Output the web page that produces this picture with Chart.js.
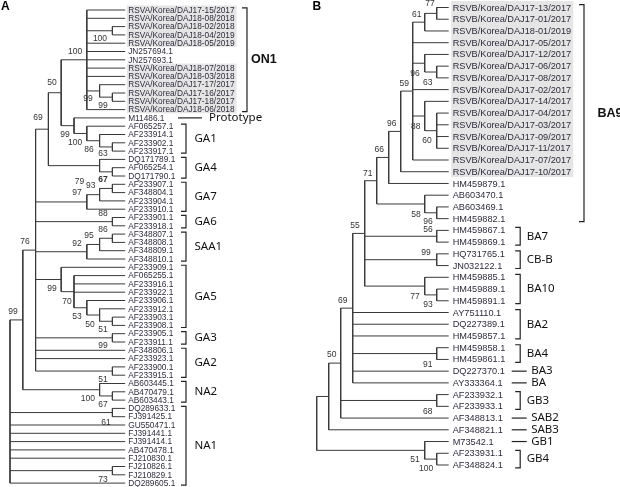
<!DOCTYPE html>
<html>
<head>
<meta charset="utf-8">
<script src="https://cdn.jsdelivr.net/npm/chart.js@4.4.1/dist/chart.umd.min.js"></script>
<style>
html, body { margin: 0; padding: 0; background: #fff; }
#wrap { position: relative; width: 620px; height: 487px; overflow: hidden; }
.panel { position: absolute; top: 0; width: 310px; height: 487px; }
</style>
</head>
<body>
<div id="wrap">
  <div class="panel" style="left:0"><canvas id="treeA"></canvas></div>
  <div class="panel" style="left:310px"><canvas id="treeB"></canvas></div>
</div>
<script>
// ---- panel A (RSV-A) ----
var leavesA = ["RSVA/Korea/DAJ17-15/2017", "RSVA/Korea/DAJ18-08/2018", "RSVA/Korea/DAJ18-02/2018",
  "RSVA/Korea/DAJ18-04/2019", "RSVA/Korea/DAJ18-05/2019", "JN257694.1", "JN257693.1",
  "RSVA/Korea/DAJ18-07/2018", "RSVA/Korea/DAJ18-03/2018", "RSVA/Korea/DAJ17-17/2017",
  "RSVA/Korea/DAJ17-16/2017", "RSVA/Korea/DAJ17-18/2017", "RSVA/Korea/DAJ18-06/2018",
  "M11486.1", "AF065257.1", "AF233914.1", "AF233902.1", "AF233917.1", "DQ171789.1", "AF065254.1",
  "DQ171790.1", "AF233907.1", "AF348804.1", "AF233904.1", "AF233910.1", "AF233901.1", "AF233918.1",
  "AF348807.1", "AF348808.1", "AF348809.1", "AF348810.1", "AF233909.1", "AF065255.1", "AF233916.1",
  "AF233922.1", "AF233906.1", "AF233912.1", "AF233903.1", "AF233908.1", "AF233905.1", "AF233911.1",
  "AF348806.1", "AF233923.1", "AF233900.1", "AF233915.1", "AB603445.1", "AB470479.1", "AB603443.1",
  "DQ289633.1", "FJ391425.1", "GU550471.1", "FJ391441.1", "FJ391414.1", "AB470478.1", "FJ210830.1",
  "FJ210826.1", "FJ210829.1", "DQ289605.1"];
// node = [depth level, [children]]; a number is a leaf row
var treeA = [0, [
  [1, [
    [2, [
      [3, [
        [4, [
          [6, [0, 1, [8, [2, 3]], 4, 5, 6, 7, 8, [7, [9, [8, [10, 11]]]], 12]],
          [5, [13, [6, [14, [7, [15, [8, [16, 17]]]]]]]]
        ]],
        [7, [18, [8, [19, 20]]]]
      ]],
      [6, [[7, [[8, [21, 22]], 23]], 24]],
      [8, [25, 26]],
      [6, [[7, [[8, [27, 28]], 29]], 30]],
      [4, [31, [5, [32, 33, 34, [6, [35, [7, [36, [8, [37, 38]]]]]]]]]],
      [8, [39, 40]],
      41, 42, [8, [43, 44]]
    ]],
    [7, [45, [8, [46, 47]]]]
  ]],
  [8, [48, 49]], 50, 51, 52, 53, 54, [8, [55, 56]], 57
]];
var tipA = 9;
// bootstrap values: [text, level, row, bold]
var supportA = [["100", 7.03, 3.49], ["100", 5.08, 5.06], ["99", 6.09, 10.72], ["99", 7.27, 11.57],
  ["50", 3.28, 8.8], ["69", 2.19, 13.01], ["99", 4.3, 15.06], ["100", 5.08, 16.02], ["86", 6.17, 16.87],
  ["63", 7.27, 17.35], ["79", 5.42, 20.72], ["67", 7.27, 20.48, true], ["93", 6.3, 21.2], ["97", 5.23, 22.05],
  ["88", 7.27, 24.58], ["86", 7.27, 26.51], ["95", 6.17, 27.23], ["92", 5.23, 28.19], ["76", 1.17, 27.95],
  ["99", 0.23, 36.39], ["99", 3.28, 33.61], ["70", 4.45, 35.18], ["53", 5.23, 36.99], ["50", 6.25, 37.95],
  ["51", 7.27, 38.55], ["99", 7.27, 40.48], ["51", 7.27, 44.58], ["100", 6.09, 46.87], ["67", 7.27, 47.59],
  ["61", 7.5, 49.76], ["73", 7.27, 56.63]];
var cladesA = [["ON1", 0, 12, "big"], ["Prototype", 13, 13, "line"], ["GA1", 14, 17], ["GA4", 18, 20],
  ["GA7", 21, 24], ["GA6", 25, 26], ["SAA1", 27, 30], ["GA5", 31, 38], ["GA3", 39, 40], ["GA2", 41, 44],
  ["NA2", 45, 47], ["NA1", 48, 57]];
var shadedA = [[0, 4], [7, 12]];

// ---- panel B (RSV-B) ----
var leavesB = ["RSVB/Korea/DAJ17-13/2017", "RSVB/Korea/DAJ17-01/2017", "RSVB/Korea/DAJ18-01/2019",
  "RSVB/Korea/DAJ17-05/2017", "RSVB/Korea/DAJ17-12/2017", "RSVB/Korea/DAJ17-06/2017",
  "RSVB/Korea/DAJ17-08/2017", "RSVB/Korea/DAJ17-02/2017", "RSVB/Korea/DAJ17-14/2017",
  "RSVB/Korea/DAJ17-04/2017", "RSVB/Korea/DAJ17-03/2017", "RSVB/Korea/DAJ17-09/2017",
  "RSVB/Korea/DAJ17-11/2017", "RSVB/Korea/DAJ17-07/2017", "RSVB/Korea/DAJ17-10/2017",
  "HM459879.1", "AB603470.1", "AB603469.1", "HM459882.1", "HM459867.1", "HM459869.1", "HQ731765.1",
  "JN032122.1", "HM459885.1", "HM459889.1", "HM459891.1", "AY751110.1", "DQ227389.1", "HM459857.1",
  "HM459858.1", "HM459861.1", "DQ227370.1", "AY333364.1", "AF233932.1", "AF233933.1", "AF348813.1",
  "AF348821.1", "M73542.1", "AF233931.1", "AF348824.1"];
var treeB = [0, [
  [1, [
    [2, [
      [3, [
        [4, [
          [5, [
            [6, [
              [7, [
                [8, [[9, [[10, [0, 1]], 2]], 3, [9, [4, [10, [5, 6]]]], 7, [9, [8, [10, [9, 10, 11, 12]]]], 13]],
                14
              ]],
              15
            ]],
            [9, [16, [10, [17, 18]]]]
          ]],
          [10, [19, 20]],
          [10, [21, 22]],
          [9, [23, [10, [24, 25]]]]
        ]],
        26, 27, 28, [10, [29, 30]], 31, 32
      ]],
      [10, [33, 34]],
      35
    ]],
    36
  ]],
  [9, [37, [10, [38, 39]]]]
]];
var tipB = 11;
var supportB = [["77", 9.44, -0.3], ["61", 8.33, 0.64], ["96", 8.2, 5.6], ["63", 9.25, 6.4], ["59", 7.3, 6.5],
  ["96", 6.25, 9.93], ["88", 8.25, 10.17], ["60", 9.2, 11.38], ["66", 5.22, 12.15], ["71", 4.25, 14.14],
  ["58", 8.28, 17.69], ["96", 9.28, 18.26], ["56", 9.28, 18.91], ["55", 3.19, 18.63], ["99", 9.11, 20.93],
  ["77", 8.19, 24.65], ["93", 9.28, 25.36], ["69", 2.17, 25.02], ["50", 1.25, 29.62], ["91", 9.25, 30.42],
  ["68", 9.25, 34.46], ["51", 8.19, 38.58], ["100", 9.11, 39.34]];
var cladesB = [["BA9", 0, 18, "big"], ["BA7", 19, 20], ["CB-B", 21, 22], ["BA10", 23, 25], ["BA2", 26, 28],
  ["BA4", 29, 30], ["BA3", 31, 31, "line"], ["BA", 32, 32, "line"], ["GB3", 33, 34],
  ["SAB2", 35, 35, "line"], ["SAB3", 36, 36, "line"], ["GB1", 37, 37, "line"], ["GB4", 38, 39]];
var shadedB = [[0, 14]];

// turn the nested tree into elbow segments (depth on x, leaf row on y)
function buildSegments(tree, tip) {
  var segs = [];
  function walk(node) {
    if (typeof node === "number") return { x: tip, y: node };
    var lvl = node[0];
    var pts = node[1].map(walk);
    pts.forEach(function (p) { segs.push([{ x: lvl, y: p.y }, { x: p.x, y: p.y }]); });
    var y0 = pts[0].y, y1 = pts[pts.length - 1].y;
    segs.push([{ x: lvl, y: y0 }, { x: lvl, y: y1 }]);
    return { x: lvl, y: (y0 + y1) / 2 };
  }
  walk(tree);
  return segs;
}

function textPlugin(leaves, tip, supports, clades, shaded, look) {
  return {
    id: "treeText",
    beforeDatasetsDraw: function (chart) {
      var ctx = chart.ctx, xs = chart.scales.x, ys = chart.scales.y;
      var lx = xs.getPixelForValue(tip) + look.labelPad;
      var rowH = Math.abs(ys.getPixelForValue(1) - ys.getPixelForValue(0));
      ctx.save();
      ctx.font = look.leafFont;
      var w = 0;
      shaded.forEach(function (r) {
        for (var i = r[0]; i <= r[1]; i++) w = Math.max(w, ctx.measureText(leaves[i]).width);
      });
      ctx.fillStyle = "#e5e5e5";
      shaded.forEach(function (r) {
        var t = ys.getPixelForValue(r[0]) - rowH * 0.55, b = ys.getPixelForValue(r[1]) + rowH * 0.45;
        ctx.fillRect(lx - 1.5, t, w + 3.5, b - t);
      });
      ctx.restore();
    },
    afterDatasetsDraw: function (chart) {
      var ctx = chart.ctx, xs = chart.scales.x, ys = chart.scales.y;
      var tx = xs.getPixelForValue(tip);
      var rowH = Math.abs(ys.getPixelForValue(1) - ys.getPixelForValue(0));
      ctx.save();
      ctx.textBaseline = "middle";

      // leaf names
      ctx.font = look.leafFont;
      ctx.fillStyle = "#2d2d3c";
      ctx.textAlign = "left";
      leaves.forEach(function (name, i) {
        ctx.fillText(name, tx + look.labelPad, ys.getPixelForValue(i) + 0.5);
      });

      // bootstrap values
      ctx.textAlign = "center";
      ctx.fillStyle = "#333";
      supports.forEach(function (s) {
        ctx.font = (s[3] ? "bold " : "") + '8.5px "Liberation Sans", Arial, sans-serif';
        ctx.fillText(s[0], xs.getPixelForValue(s[1]), ys.getPixelForValue(s[2]));
      });

      // clade brackets and names
      ctx.textAlign = "left";
      ctx.strokeStyle = "#222";
      ctx.fillStyle = "#111";
      ctx.lineWidth = 1.2;
      clades.forEach(function (c) {
        var y0 = ys.getPixelForValue(c[1]), y1 = ys.getPixelForValue(c[2]), ym = (y0 + y1) / 2;
        if (c[3] === "line") {
          ctx.beginPath();
          ctx.moveTo(tx + look.lineFrom, ym);
          ctx.lineTo(tx + look.lineTo, ym);
          ctx.stroke();
          ctx.font = look.cladeFont;
          ctx.fillText(c[0], tx + look.lineText, ym);
          return;
        }
        var big = c[3] === "big";
        var bx = tx + (big ? look.bracketBig : look.bracket);
        var ext = rowH * 0.25;
        ctx.beginPath();
        ctx.moveTo(bx - 5, y0 - ext);
        ctx.lineTo(bx, y0 - ext);
        ctx.lineTo(bx, y1 + ext);
        ctx.lineTo(bx - 5, y1 + ext);
        ctx.stroke();
        ctx.font = big ? look.bigFont : look.cladeFont;
        ctx.fillText(c[0], bx + (big ? look.gapBig : look.gap), ym);
      });

      // panel letter
      ctx.font = 'bold 12px "Liberation Sans", Arial, sans-serif';
      ctx.fillStyle = "#000";
      ctx.fillText(look.title, look.titleX, 7);
      ctx.restore();
    }
  };
}

function drawTree(id, tree, leaves, tip, supports, clades, shaded, look) {
  var segs = buildSegments(tree, tip);
  new Chart(document.getElementById(id), {
    type: "scatter",
    data: {
      datasets: segs.map(function (s) {
        return { data: s, showLine: true, borderColor: "#3a3a3a", borderWidth: 1,
                 pointRadius: 0, pointHoverRadius: 0, clip: false };
      })
    },
    options: {
      responsive: true, maintainAspectRatio: false, animation: false, events: [],
      layout: { padding: look.pad },
      plugins: { legend: { display: false }, tooltip: { enabled: false } },
      scales: {
        x: { type: "linear", display: false, min: 0, max: tip },
        y: { type: "linear", display: false, min: 0, max: leaves.length - 1, reverse: true }
      }
    },
    plugins: [textPlugin(leaves, tip, supports, clades, shaded, look)]
  });
}

drawTree("treeA", treeA, leavesA, tipA, supportA, cladesA, shadedA, {
  title: "A", titleX: 1,
  pad: { left: 10, right: 184.8, top: 10, bottom: 3.9 },
  leafFont: '8.3px "Liberation Sans", Arial, sans-serif', labelPad: 3,
  cladeFont: '11.5px "Noto Sans", sans-serif', bigFont: 'bold 12.5px "Liberation Sans", Arial, sans-serif',
  bracket: 60.8, gap: 8.5, bracketBig: 121.8, gapBig: 4,
  lineFrom: 52.8, lineTo: 76.8, lineText: 83.8
});

drawTree("treeB", treeB, leavesB, tipB, supportB, cladesB, shadedB, {
  title: "B", titleX: 2.5,
  pad: { left: 6.7, right: 171.3, top: 7.5, bottom: 22 },
  leafFont: '9.2px "Liberation Sans", Arial, sans-serif', labelPad: 4,
  cladeFont: '11.5px "Noto Sans", sans-serif', bigFont: 'bold 12.5px "Liberation Sans", Arial, sans-serif',
  bracket: 71.5, gap: 6.5, bracketBig: 135.3, gapBig: 13.5,
  lineFrom: 63, lineTo: 78, lineText: 82.5
});
</script>
</body>
</html>
